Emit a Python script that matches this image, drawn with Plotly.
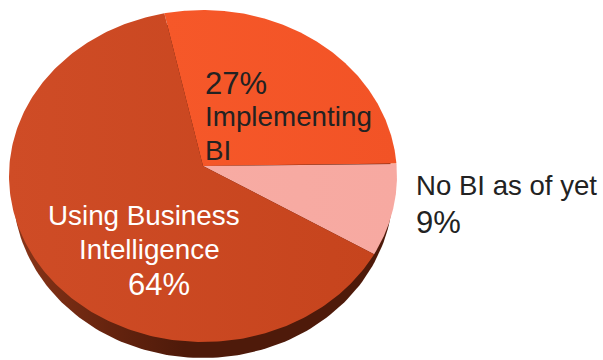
import math
import plotly.graph_objects as go

# Share of organisations by business-intelligence adoption
categories = ["Implementing BI", "No BI as of yet", "Using Business Intelligence"]
shares = [27, 9, 64]
slice_colors = [
    ["#F65829", "#F25326"],
    ["#F7ABA3", "#F7A9A1"],
    ["#CF4C26", "#C6441D"],
]

# Tilted-disc geometry in pixel-like axis units
APEX = (203, 166)
TOP_CENTER = (203, 176)
TOP_RX, TOP_RY = 194, 166
EDGE_CENTER = (203, 190)
EDGE_RX, EDGE_RY = 190, 168
START_DEG = 101.5


def rim(center, rx, ry, a0, a1, n=240):
    pts = [a0 + (a1 - a0) * i / n for i in range(n + 1)]
    return (
        [center[0] + rx * math.cos(math.radians(a)) for a in pts],
        [center[1] - ry * math.sin(math.radians(a)) for a in pts],
    )


fig = go.Figure()

# Extruded side of the disc, visible only below the top face
ex, ey = rim(EDGE_CENTER, EDGE_RX, EDGE_RY, 0, 360)
fig.add_trace(go.Scatter(
    x=ex, y=ey, mode="lines", fill="toself", line=dict(width=0),
    fillgradient=dict(
        type="horizontal",
        colorscale=[[0, "#8A3518"], [0.25, "#66240F"], [0.45, "#4E1A0A"], [1, "#4E1A0A"]],
    ),
    hoverinfo="skip", showlegend=False,
))

# Top-face wedges: sweep is proportional to each share, clockwise from the start angle
angle = START_DEG
for name, share, (c0, c1) in zip(categories, shares, slice_colors):
    sweep = share / sum(shares) * 360
    rx_pts, ry_pts = rim(TOP_CENTER, TOP_RX, TOP_RY, angle, angle - sweep)
    fig.add_trace(go.Scatter(
        x=[APEX[0]] + rx_pts + [APEX[0]],
        y=[APEX[1]] + ry_pts + [APEX[1]],
        mode="lines", fill="toself",
        fillgradient=dict(type="horizontal", colorscale=[[0, c0], [1, c1]]),
        line=dict(width=0), name=name, showlegend=False,
    ))
    angle -= sweep

DARK = "#222222"
LIGHT = "#FFFFFF"
# text, x, y of line centre, anchor, size, colour
labels = [
    ("27%", 204, 83, "left", 31, DARK),
    ("Implementing", 204, 116.5, "left", 27.8, DARK),
    ("BI", 204, 150, "left", 27.8, DARK),
    ("Using Business", 144, 215, "center", 27.8, LIGHT),
    ("Intelligence", 149, 249, "center", 27.8, LIGHT),
    ("64%", 159, 284, "center", 31, LIGHT),
    ("No BI as of yet", 415, 185, "left", 27.6, DARK),
    ("9%", 415, 222, "left", 31, DARK),
]
annotations = [
    dict(text=t, x=x, y=y, xref="x", yref="y", xanchor=a, yanchor="middle",
         showarrow=False, borderpad=0,
         font=dict(family="Liberation Sans, Arial, sans-serif", size=s, color=c))
    for t, x, y, a, s, c in labels
]

fig.update_layout(
    width=603, height=360,
    margin=dict(l=0, r=0, t=0, b=0),
    paper_bgcolor="white", plot_bgcolor="white",
    xaxis=dict(range=[0, 603], visible=False, fixedrange=True),
    yaxis=dict(range=[360, 0], visible=False, fixedrange=True),
    annotations=annotations,
)

fig.write_html("out.html")
